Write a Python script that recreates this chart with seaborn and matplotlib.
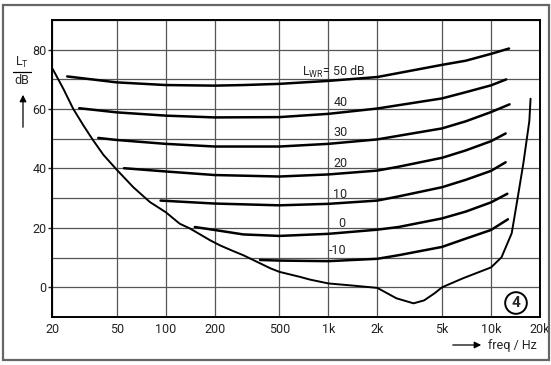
import pandas as pd
import seaborn as sns
import matplotlib.pyplot as plt
from matplotlib.patches import Rectangle

# threshold in quiet (L_T over frequency)
thr_freq = [20.2, 23.5, 27, 31.2, 35.6, 41.4, 50, 63.2, 80, 100, 122, 141, 188, 216, 260, 300,
            440, 500, 670, 770, 1000, 1400, 2000, 2620, 3340, 3880, 4500, 5000, 6700, 10000,
            11600, 13400, 14600, 15800, 17200, 17500]
thr_level = [73.5, 66.8, 60.1, 54.5, 49.7, 44.6, 39.6, 33.7, 28.7, 25.3, 21.4, 19.8, 15.8, 14.1,
             12.2, 10.8, 6.4, 5.2, 3.5, 2.6, 1.3, 0.6, -0.2, -3.7, -5.4, -4.4, -2.0, 0.0, 3.0,
             6.7, 10.1, 18.2, 30.3, 41.7, 56.0, 63.5]

# masked thresholds for different masker levels L_WR
lwr_levels = [50, 40, 30, 20, 10, 0, -10]
mask_freq = {
    50: [24.8, 50, 100, 200, 300, 500, 1000, 2000, 5000, 7000, 10000, 12900],
    40: [29.4, 50, 100, 200, 500, 1000, 2000, 5000, 7000, 10000, 12400],
    30: [38.5, 50, 100, 200, 500, 1000, 2000, 5000, 7000, 10000, 13000],
    20: [55.4, 100, 200, 500, 1000, 2000, 2700, 5000, 7000, 10000, 12300],
    10: [93, 200, 500, 1000, 2000, 2700, 5000, 7000, 10000, 12300],
    0: [151, 200, 300, 500, 1000, 2000, 2700, 5000, 7000, 10000, 12600],
    -10: [380, 500, 1000, 2000, 2700, 5000, 7000, 10000, 12700],
}
mask_level = {
    50: [71, 69, 68.1, 67.9, 68.1, 68.5, 69.5, 70.8, 74.9, 76.3, 78.6, 80.4],
    40: [60.3, 58.9, 57.8, 57.2, 57.3, 58.4, 60.2, 63.6, 65.7, 68.0, 70.0],
    30: [50.3, 49.6, 48.3, 47.4, 47.4, 48.3, 49.8, 53.5, 55.9, 59.0, 61.6],
    20: [40.1, 39, 37.8, 37.3, 38, 39.3, 40.6, 43.6, 46.1, 49.2, 51.8],
    10: [29.2, 28.2, 27.6, 28.1, 29.2, 30.6, 33.7, 36.2, 39.2, 42.1],
    0: [20.3, 19.3, 17.8, 17.3, 18, 19.4, 20.3, 23.2, 25.5, 28.6, 31.5],
    -10: [9.2, 9.0, 8.8, 9.6, 10.8, 13.6, 16.4, 19.3, 22.9],
}

x_ticks = [20, 50, 100, 200, 500, 1000, 2000, 5000, 10000, 20000]
x_ticklabels = ['20', '50', '100', '200', '500', '1k', '2k', '5k', '10k', '20k']
y_ticks = [0, 20, 40, 60, 80]

rows = []
for lv in lwr_levels:
    for f, l in zip(mask_freq[lv], mask_level[lv]):
        rows.append({'curve': lv, 'freq': f, 'level': l})
mask_df = pd.DataFrame(rows)

sns.set_style('white')
plt.rcParams['font.family'] = ['Roboto', 'DejaVu Sans']

W, H = 551, 365
fig = plt.figure(figsize=(W / 100, H / 100), dpi=100)
ax = fig.add_axes([52 / W, 1 - 317 / H, 488 / W, 297 / H])


def px(x, y):
    return x / W, 1 - y / H


sns.lineplot(data=mask_df, x='freq', y='level', units='curve', estimator=None,
             color='black', lw=1.8, ax=ax)
sns.lineplot(x=thr_freq, y=thr_level, color='black', lw=1.4, sort=False, ax=ax)

ax.set_xscale('log')
ax.set_xlim(20, 20000)
ax.set_ylim(-10, 90)
ax.set_xticks(x_ticks)
ax.set_xticklabels(x_ticklabels)
ax.set_xticks([], minor=True)
ax.set_yticks(y_ticks)
ax.set_yticks(range(-10, 91, 10), minor=True)
ax.grid(True, which='both', color='#555555', lw=0.9)
ax.set_xlabel('')
ax.set_ylabel('')
ax.tick_params(axis='x', length=0, pad=4, labelsize=9, colors='#222222')
ax.tick_params(axis='y', which='major', length=3, width=1, pad=1, labelsize=9,
               colors='#222222', left=True)
ax.tick_params(axis='y', which='minor', length=0)
for s in ax.spines.values():
    s.set_color('black')
    s.set_linewidth(1.4)

# curve labels
fig.text(*px(302, 72), 'L$_{\\mathregular{WR}}$= 50 dB', fontsize=9, ha='left', va='center')
for lab, xx, yy in [('40', 341, 103), ('30', 341, 133), ('20', 341, 163),
                    ('10', 340, 194), ('0', 342, 223), ('-10', 338, 251)]:
    fig.text(*px(xx, yy), lab, fontsize=9, ha='center', va='center')

# y label
fig.text(*px(22, 62), 'L$_{\\mathregular{T}}$', fontsize=9, ha='center', va='center')
fig.lines.append(plt.Line2D([13 / W, 31 / W], [1 - 72 / H, 1 - 72 / H],
                            color='black', lw=0.9, transform=fig.transFigure))
fig.text(*px(22, 81), 'dB', fontsize=9, ha='center', va='center')
ax.annotate('', xy=px(23, 92), xytext=px(23, 130), xycoords='figure fraction',
            textcoords='figure fraction',
            arrowprops=dict(arrowstyle='-|>', color='black', lw=0.9, mutation_scale=10))

# x label
ax.annotate('', xy=px(484, 345), xytext=px(450, 345), xycoords='figure fraction',
            textcoords='figure fraction',
            arrowprops=dict(arrowstyle='-|>', color='black', lw=0.9, mutation_scale=10))
fig.text(*px(488, 345), 'freq / Hz', fontsize=9, ha='left', va='center')

# figure number
fig.text(*px(516, 303), '4', fontsize=11, fontweight='bold', ha='center', va='center',
         bbox=dict(boxstyle='circle,pad=0.25', fc='white', ec='black', lw=1.4))

# outer frame
fig.patches.append(Rectangle(px(3, 360), 546 / W, 355 / H, fill=False, ec='#666666',
                             lw=1.6, transform=fig.transFigure))

fig.savefig('out.png', dpi=100)
